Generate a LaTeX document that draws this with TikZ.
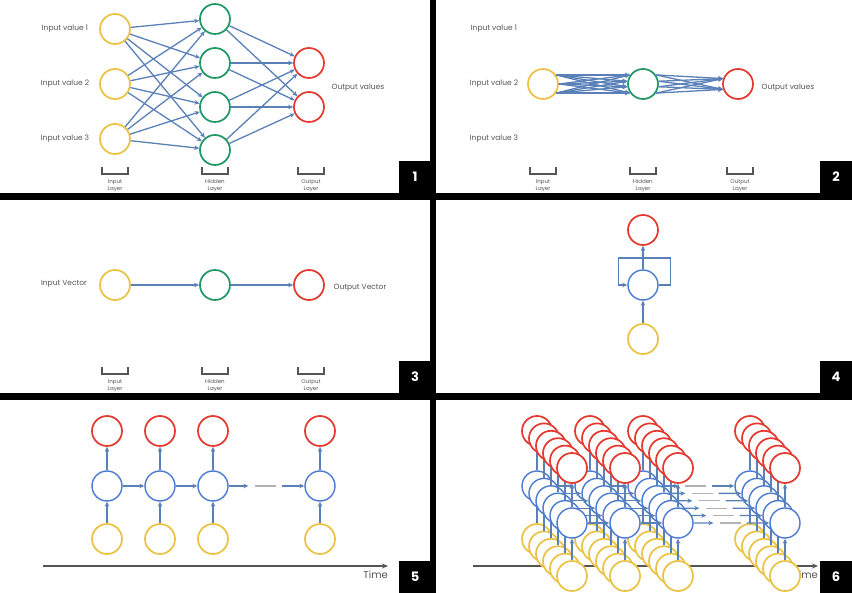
\documentclass[tikz,border=0pt]{standalone}
\usepackage{fontspec}
\setmainfont{Poppins}
\usepackage{tikz}
\usetikzlibrary{arrows.meta, calc, positioning}
\definecolor{inyellow}{HTML}{EBC243}
\definecolor{hidgreen}{HTML}{1E9964}
\definecolor{outred}{HTML}{E5392F}
\definecolor{recblue}{HTML}{4A7BD0}
\definecolor{linkblue}{HTML}{5A80B8}
\definecolor{labelgray}{HTML}{555555}
\tikzset{
	smalllabel/.style={font=\fontsize{7.5}{9}\selectfont\color{labelgray}}
}
\tikzset{
	tinylabel/.style={font=\fontsize{5.5}{7}\selectfont\color{labelgray}, align=center, inner sep=0pt}
}
\newcommand{\layermark}[4]{%
  \draw[bracket] (#2-13,#3) -- (#2-13,#3+7) -- (#2+13,#3+7) -- (#2+13,#3);
  \node[tinylabel] (#1) at (#2,#3+18.5) {#4\\Layer};
}

\begin{document}
\begin{tikzpicture}[x=1pt, y=-1pt,
  unit/.style={circle, draw, line width=1.7pt, fill=white, minimum size=30pt, inner sep=0pt},
  inunit/.style={unit, draw=inyellow},
  hidunit/.style={unit, draw=hidgreen},
  outunit/.style={unit, draw=outred},
  recunit/.style={unit, draw=recblue, line width=1.4pt},
  link/.style={draw=linkblue, line width=1.3pt, -{Stealth[length=5pt, width=4.5pt]}},
  gapline/.style={draw=gray!60, line width=1.3pt},
  bracket/.style={draw=labelgray, line width=1.2pt},
  axis/.style={draw=labelgray, line width=1.3pt, -{Stealth[length=6pt, width=5pt]}},
  timelabel/.style={font=\fontsize{10}{12}\selectfont\color{labelgray}, inner sep=0pt, anchor=north east},
  tag/.style={text=white, font=\bfseries\fontsize{13}{13}\selectfont}]
  \useasboundingbox (0,0) rectangle (852,593);
  \fill[black] (0,0) rectangle (852,593);
  \fill[white] (0,0) rectangle (430,193);
  \fill[white] (436,0) rectangle (852,193);
  \fill[white] (0,200) rectangle (430,393);
  \fill[white] (436,200) rectangle (852,393);
  \fill[white] (0,400) rectangle (430,593);
  \fill[white] (436,400) rectangle (852,593);
  \foreach \px/\py in {399/161, 820/161, 399/361, 820/361, 399/561, 820/561}
    \fill[black] (\px,\py) rectangle ++(32,32);

  % 1: feed-forward network
  \foreach \y [count=\n] in {29,84,139} {
    \node[inunit] (p1i\n) at (115,\y) {};
    \node[smalllabel] (p1t\n) at (65,\y) {Input value \n};
  }
  \foreach \y [count=\n] in {19,63,107,150}
    \node[hidunit] (p1h\n) at (215,\y) {};
  \foreach \y [count=\n] in {63,107}
    \node[outunit] (p1o\n) at (309,\y) {};
  \foreach \a in {1,2,3}
    \foreach \b in {1,...,4}
      \draw[link] (p1i\a) -- (p1h\b);
  \foreach \a in {1,...,4}
    \foreach \b in {1,2}
      \draw[link] (p1h\a) -- (p1o\b);
  \node[smalllabel] (p1out) at (358,88) {Output values};
  \layermark{p1l1}{115}{167}{Input}
  \layermark{p1l2}{215}{167}{Hidden}
  \layermark{p1l3}{311}{167}{Output}
  \node[tag] (n1) at (415,177) {1};

  % 2: collapsed layers
  \foreach \y [count=\n] in {29,84,139}
    \node[smalllabel] (p2t\n) at (494,\y) {Input value \n};
  \node[inunit] (p2i) at (543,84) {};
  \node[hidunit] (p2h) at (643,84) {};
  \node[outunit] (p2o) at (738,84) {};
  \foreach \s in {35,0,-35}
    \foreach \e in {145,170,190,215}
      \draw[link] (p2i.\s) -- (p2h.\e);
  \foreach \s in {35,10,-10,-35}
    \foreach \e in {160,200}
      \draw[link] (p2h.\s) -- (p2o.\e);
  \node[smalllabel] (p2out) at (788,88) {Output values};
  \layermark{p2l1}{543}{167}{Input}
  \layermark{p2l2}{643}{167}{Hidden}
  \layermark{p2l3}{740}{167}{Output}
  \node[tag] (n2) at (836,177) {2};

  % 3: vectors
  \node[inunit] (p3i) at (115,285) {};
  \node[hidunit] (p3h) at (215,285) {};
  \node[outunit] (p3o) at (309,285) {};
  \draw[link] (p3i) -- (p3h);
  \draw[link] (p3h) -- (p3o);
  \node[smalllabel] (p3in) at (64,284) {Input Vector};
  \node[smalllabel] (p3out) at (360,288) {Output Vector};
  \layermark{p3l1}{115}{367}{Input}
  \layermark{p3l2}{215}{367}{Hidden}
  \layermark{p3l3}{311}{367}{Output}
  \node[tag] (n3) at (415,377) {3};

  % 4: recurrent unit
  \node[inunit] (p4i) at (643,339) {};
  \node[recunit] (p4h) at (643,285) {};
  \node[outunit] (p4o) at (643,230) {};
  \draw[link] (p4i) -- (p4h);
  \draw[link] (p4h) -- (p4o);
  \draw[link] (p4h.east) -- ++(12,0) -- ++(0,-27) -- ++(-52,0) -- ++(0,27) -- (p4h.west);
  \node[tag] (n4) at (836,377) {4};

  % 5: unrolled in time
  \coordinate (t5a) at (43,566);
  \coordinate (t5b) at (388,566);
  \draw[axis] (t5a) -- (t5b);
  \node[timelabel] (p5time) at (388,571) {Time};
  \foreach \cx [count=\c] in {107,160,213,320} {
    \node[inunit] (p5y\c) at (\cx,539) {};
    \node[recunit] (p5b\c) at (\cx,486) {};
    \node[outunit] (p5r\c) at (\cx,431) {};
    \draw[link] (p5y\c) -- (p5b\c);
    \draw[link] (p5b\c) -- (p5r\c);
  }
  \draw[link] (p5b1) -- (p5b2);
  \draw[link] (p5b2) -- (p5b3);
  \draw[link] (p5b3.east) -- ($(p5b3.east)!0.26!(p5b4.west)$);
  \draw[gapline] ($(p5b3.east)!0.35!(p5b4.west)$) -- ($(p5b3.east)!0.62!(p5b4.west)$);
  \draw[link] ($(p5b3.east)!0.70!(p5b4.west)$) -- (p5b4.west);
  \node[tag] (n5) at (415,577) {5};

  % 6: stacked units unrolled in time
  \coordinate (t6a) at (473,566);
  \coordinate (t6b) at (818,566);
  \draw[axis] (t6a) -- (t6b);
  \node[timelabel] (p6time) at (818,571) {Time};
  \foreach \k in {0,...,5} {
    \foreach \cx [count=\c] in {537,590,643,750} {
      \node[inunit] (p6y\k-\c) at (\cx+7*\k,539+7.4*\k) {};
      \node[recunit] (p6b\k-\c) at (\cx+7*\k,486+7.4*\k) {};
      \node[outunit] (p6r\k-\c) at (\cx+7*\k,431+7.4*\k) {};
      \draw[link] (p6y\k-\c) -- (p6b\k-\c);
      \draw[link] (p6b\k-\c) -- (p6r\k-\c);
    }
    \draw[link] (p6b\k-1) -- (p6b\k-2);
    \draw[link] (p6b\k-2) -- (p6b\k-3);
    \draw[link] (p6b\k-3.east) -- ($(p6b\k-3.east)!0.26!(p6b\k-4.west)$);
    \draw[gapline] ($(p6b\k-3.east)!0.35!(p6b\k-4.west)$) -- ($(p6b\k-3.east)!0.62!(p6b\k-4.west)$);
    \draw[link] ($(p6b\k-3.east)!0.70!(p6b\k-4.west)$) -- (p6b\k-4.west);
  }
  \node[tag] (n6) at (836,577) {6};
\end{tikzpicture}
\end{document}
